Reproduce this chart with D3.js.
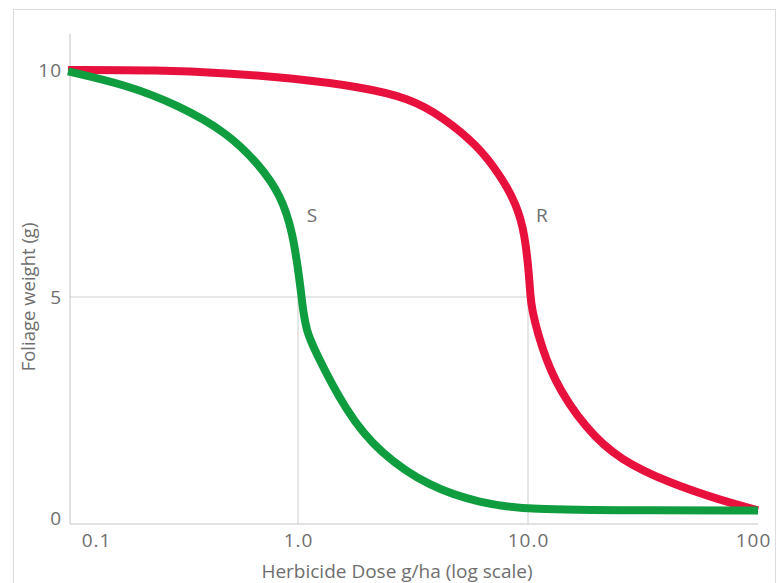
<!DOCTYPE html>
<html>
<head>
<meta charset="utf-8">
<script src="https://cdnjs.cloudflare.com/ajax/libs/d3/7.8.5/d3.min.js"></script>
<style>
  body { margin: 0; background: #fff; }
  svg text { font-family: "Open Sans", Lato, sans-serif; fill: #6e6e6e; }
</style>
</head>
<body>
<div id="chart"></div>
<script>
// dose (g/ha) and foliage weight (g)
const sDose   = [0.1, 0.18, 0.3, 0.49, 0.68, 0.84, 0.95, 1.02, 1.036, 1.056, 1.09, 1.16, 1.63, 2.27, 3.74, 6.2, 10, 30, 100];
const sWeight = [9.97, 9.67, 9.23, 8.63, 7.91, 7.25, 6.43, 5.3, 5.0, 4.65, 4.27, 3.9, 2.44, 1.56, 0.81, 0.46, 0.31, 0.3, 0.3];

const rDose   = [0.1, 0.25, 0.49, 0.95, 1.86, 3.07, 4.27, 6.0, 7.56, 8.94, 9.7, 10.1, 10.25, 10.4, 10.9, 12.8, 18.0, 25.1, 41.3, 68.2, 100];
const rWeight = [10.0, 10.0, 9.93, 9.82, 9.63, 9.38, 8.96, 8.35, 7.69, 7.03, 6.37, 5.5, 5.0, 4.75, 4.27, 3.17, 2.07, 1.41, 0.9, 0.53, 0.3];

const xTicks = [0.1, 1, 10, 100];
const xTickLabels = ["0.1", "1.0", "10.0", "100"];
const yTicks = [0, 5, 10];

const curveLabels = ["S", "R"];
const labelDose = [1.15, 11.5];
const labelWeight = [6.8, 6.8];

const W = 781, H = 583;
const svg = d3.select("#chart").append("svg")
    .attr("width", W).attr("height", H);

// outer frame
svg.append("rect")
    .attr("x", 13.5).attr("y", 9.5)
    .attr("width", 762).attr("height", 590)
    .attr("fill", "none").attr("stroke", "#dcdcdc");

const x = d3.scaleLog().domain([0.1, 100]).range([68, 758]);
const y = d3.scaleLinear().domain([0, 10]).range([524, 70]);

// axis lines
svg.append("line")
    .attr("x1", 70).attr("x2", 70)
    .attr("y1", y(0)).attr("y2", y(10.8))
    .attr("stroke", "#c4c4c4");
svg.append("line")
    .attr("x1", 70).attr("x2", x(100))
    .attr("y1", y(0)).attr("y2", y(0))
    .attr("stroke", "#c4c4c4");

// 50% reference lines
svg.append("line")
    .attr("x1", 70).attr("x2", x(10))
    .attr("y1", y(5)).attr("y2", y(5))
    .attr("stroke", "#c8c8c8").attr("stroke-width", 0.9);
[1, 10].forEach(function(d) {
    svg.append("line")
        .attr("x1", x(d)).attr("x2", x(d))
        .attr("y1", y(5)).attr("y2", y(0))
        .attr("stroke", "#c8c8c8").attr("stroke-width", 0.9);
});

// x tick labels
const xAxis = svg.append("g")
    .attr("transform", "translate(0," + y(0) + ")")
    .call(d3.axisBottom(x).tickValues(xTicks).tickSize(0)
        .tickFormat(function(d, i) { return xTickLabels[i]; }));
xAxis.select(".domain").remove();
xAxis.selectAll("text")
    .attr("dy", "1.05em")
    .style("font-size", "19px")
    .style("letter-spacing", "1px")
    .attr("dx", function(d, i) { return i == 0 ? 28 : (i == 3 ? -5 : 0); });

// y tick labels
const yAxis = svg.append("g")
    .attr("transform", "translate(62,0)")
    .call(d3.axisLeft(y).tickValues(yTicks).tickSize(0).tickPadding(0));
yAxis.select(".domain").remove();
yAxis.selectAll("text")
    .style("font-size", "19px")
    .style("letter-spacing", "1px")
    .attr("dy", function(d) { return d == 0 ? "0.02em" : "0.34em"; });

// axis titles
svg.append("text")
    .attr("x", 397).attr("y", 578)
    .attr("text-anchor", "middle")
    .style("font-size", "19px")
    .text("Herbicide Dose g/ha (log scale)");
svg.append("text")
    .attr("transform", "translate(35,297) rotate(-90)")
    .attr("text-anchor", "middle")
    .style("font-size", "18.5px")
    .text("Foliage weight (g)");

const line = d3.line()
    .x(function(d) { return x(d[0]); })
    .y(function(d) { return y(d[1]); })
    .curve(d3.curveBasis);

svg.append("path")
    .attr("d", line(d3.zip(rDose, rWeight)))
    .attr("fill", "none")
    .attr("stroke", "#e8113d")
    .attr("stroke-width", 8);

svg.append("path")
    .attr("d", line(d3.zip(sDose, sWeight)))
    .attr("fill", "none")
    .attr("stroke", "#0f9d40")
    .attr("stroke-width", 8);

svg.selectAll(".curve-label")
    .data(curveLabels)
    .enter().append("text")
    .attr("class", "curve-label")
    .attr("x", function(d, i) { return x(labelDose[i]); })
    .attr("y", function(d, i) { return y(labelWeight[i]); })
    .attr("dy", "0.35em")
    .attr("text-anchor", "middle")
    .style("font-size", "19px")
    .text(function(d) { return d; });
</script>
</body>
</html>
